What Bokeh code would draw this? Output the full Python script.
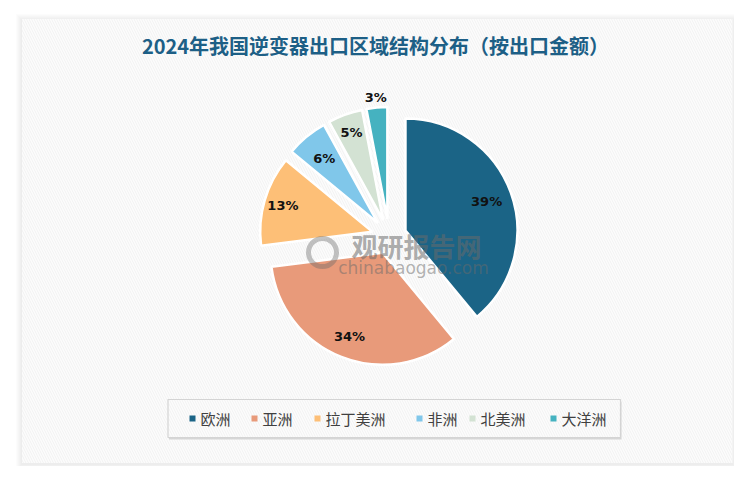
import numpy as np
from bokeh.plotting import figure
from bokeh.models import Range1d, ColumnDataSource
from bokeh.core.properties import value
from bokeh.embed import file_html
from bokeh.resources import INLINE

# ---- data ----
regions = ["欧洲", "亚洲", "拉丁美洲", "非洲", "北美洲", "大洋洲"]
shares = [39, 34, 13, 6, 5, 3]
colors = ["#1B6486", "#E89A7A", "#FDBF77", "#80C7EA", "#D3E2D3", "#45B2C0"]
title_text = "2024年我国逆变器出口区域结构分布（按出口金额）"

# ---- layout (pixels, figure coords with y up) ----
W, H = 734, 466
def Y(y_img):
    return H - y_img
def X(x_img):
    return x_img

p = figure(width=W, height=H, x_range=Range1d(0, W), y_range=Range1d(0, H),
           output_backend="svg", toolbar_location=None, min_border=0)
p.axis.visible = False
p.grid.visible = False
p.outline_line_color = None
p.background_fill_color = "white"
p.border_fill_color = "white"

# panel shadow + panel
px0, py0, px1, py1 = X(21.5), Y(462.5), X(732), Y(18.5)
for k in range(6, 0, -1):
    p.quad(left=px0 - k, right=px1 + k, bottom=py0 - k - 1, top=py1 + k - 1,
           fill_color="black", fill_alpha=0.010, line_color=None)
p.quad(left=px0, right=px1, bottom=py0, top=py1, fill_color="#fcfcfc",
       hatch_pattern="\\", hatch_color="#f2f2f2", hatch_scale=5, hatch_weight=1,
       line_color=None)

# title
p.text(x=[X(375)], y=[Y(45)], text=[title_text], text_align="center",
       text_baseline="middle", text_font=value("Noto Sans CJK SC"),
       text_font_style="bold", text_font_size="20px", text_color="#1D5F86")

# pie
cx, cy = X(388.5), Y(236)
R = 112
explode = 17.5
fr = np.array(shares, dtype=float) / sum(shares)
cum = np.concatenate([[0], np.cumsum(fr)[:-1]])
start = np.pi / 2 - cum * 2 * np.pi
end = start - fr * 2 * np.pi
mid = (start + end) / 2
ax = cx + explode * np.cos(mid)
ay = cy + explode * np.sin(mid)

src = ColumnDataSource(dict(x=ax, y=ay, s=start, e=end, c=colors))
p.wedge(x="x", y="y", radius=R, start_angle="s", end_angle="e",
        direction="clock", fill_color="c", line_color="white", line_width=2.5,
        source=src)

# labels
label_r = np.array([0.77, 0.80, 0.83, 0.75, 0.83, 1.09])
lx = ax + label_r * R * np.cos(mid)
ly = ay + label_r * R * np.sin(mid)
p.text(x=lx, y=ly, text=[f"{v}%" for v in shares], text_align="center",
       text_baseline="middle", text_font=value("DejaVu Sans"),
       text_font_style="bold", text_font_size="13px", text_color="#111111")

# watermark
p.text(x=[X(416)], y=[Y(245)], text=["观研报告网"], text_align="center",
       text_baseline="middle", text_font=value("Noto Sans CJK SC"),
       text_font_style="bold", text_font_size="26px", text_color="#6a6a6a",
       text_alpha=0.55)
p.text(x=[X(413)], y=[Y(267)], text=["chinabaogao.com"], text_align="center",
       text_baseline="middle", text_font=value("DejaVu Sans"),
       text_font_size="17px", text_color="#6a6a6a", text_alpha=0.5)
p.circle(x=[X(322)], y=[Y(252)], radius=14, fill_color=None,
         line_color="#6a6a6a", line_width=5, line_alpha=0.4)

# legend box
lx0, lx1, ly0, ly1 = X(167.5), X(620), Y(437), Y(399)
p.quad(left=lx0 + 1, right=lx1 + 1, bottom=ly0 - 2, top=ly1 - 2,
       fill_color="#d6d6d6", line_color=None)
p.quad(left=lx0, right=lx1, bottom=ly0, top=ly1, fill_color="#fcfcfc",
       hatch_pattern="\\", hatch_color="#f2f2f2", hatch_scale=5, hatch_weight=1,
       line_color="#d4d4d4", line_width=1.2)

sq_x = [192, 254, 317, 419, 472, 553]
leg_y = Y(418)
p.rect(x=[X(v) for v in sq_x], y=[leg_y] * len(sq_x), width=6, height=6,
       fill_color=colors, line_color=None)
p.text(x=[X(v) + 8 for v in sq_x], y=[leg_y] * len(sq_x), text=regions,
       text_align="left", text_baseline="middle",
       text_font=value("Noto Sans CJK SC"), text_font_size="15px",
       text_color="#404040")

open("out.html", "w").write(file_html(p, INLINE))
